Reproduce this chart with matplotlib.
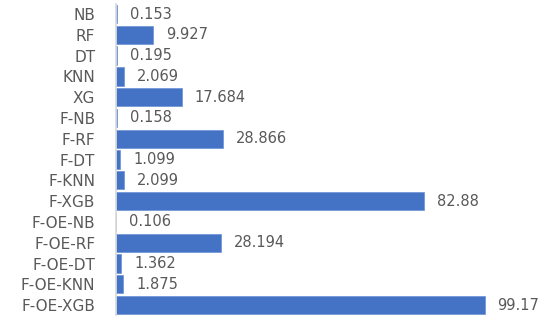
import matplotlib
matplotlib.use("Agg")
import matplotlib.pyplot as plt

models = ["NB", "RF", "DT", "KNN", "XG", "F-NB", "F-RF", "F-DT", "F-KNN", "F-XGB",
          "F-OE-NB", "F-OE-RF", "F-OE-DT", "F-OE-KNN", "F-OE-XGB"]
values = [0.153, 9.927, 0.195, 2.069, 17.684, 0.158, 28.866, 1.099, 2.099, 82.88,
          0.106, 28.194, 1.362, 1.875, 99.17]
labels = ["0.153", "9.927", "0.195", "2.069", "17.684", "0.158", "28.866", "1.099",
          "2.099", "82.88", "0.106", "28.194", "1.362", "1.875", "99.17"]

plt.rcParams['font.family'] = ['DejaVu Sans']

fig = plt.figure(figsize=(5.5, 3.3), dpi=100)
ax = fig.add_axes([116 / 550, 0.044, 420 / 550, 0.945])

ypos = list(range(len(models)))
ax.barh(ypos, values, height=0.88, color="#4472C4", edgecolor="#6A92D8", linewidth=0.5)

for y, v, t in zip(ypos, values, labels):
    ax.annotate(t, (v, y), xytext=(13, 0), textcoords="offset pixels",
                va="center", ha="left", fontsize=10.5, color="#595959")

ax.set_yticks(ypos)
ax.set_yticklabels(models, fontsize=11, color="#595959")
ax.set_ylim(len(models) - 0.5, -0.5)
ax.set_xlim(0, 113)
ax.set_xticks([])
ax.tick_params(axis="y", length=0, pad=15)
for s in ["top", "right", "bottom"]:
    ax.spines[s].set_visible(False)
ax.spines["left"].set_color("#D9D9D9")
ax.spines["left"].set_linewidth(1.2)

fig.savefig("out.png", dpi=100)
